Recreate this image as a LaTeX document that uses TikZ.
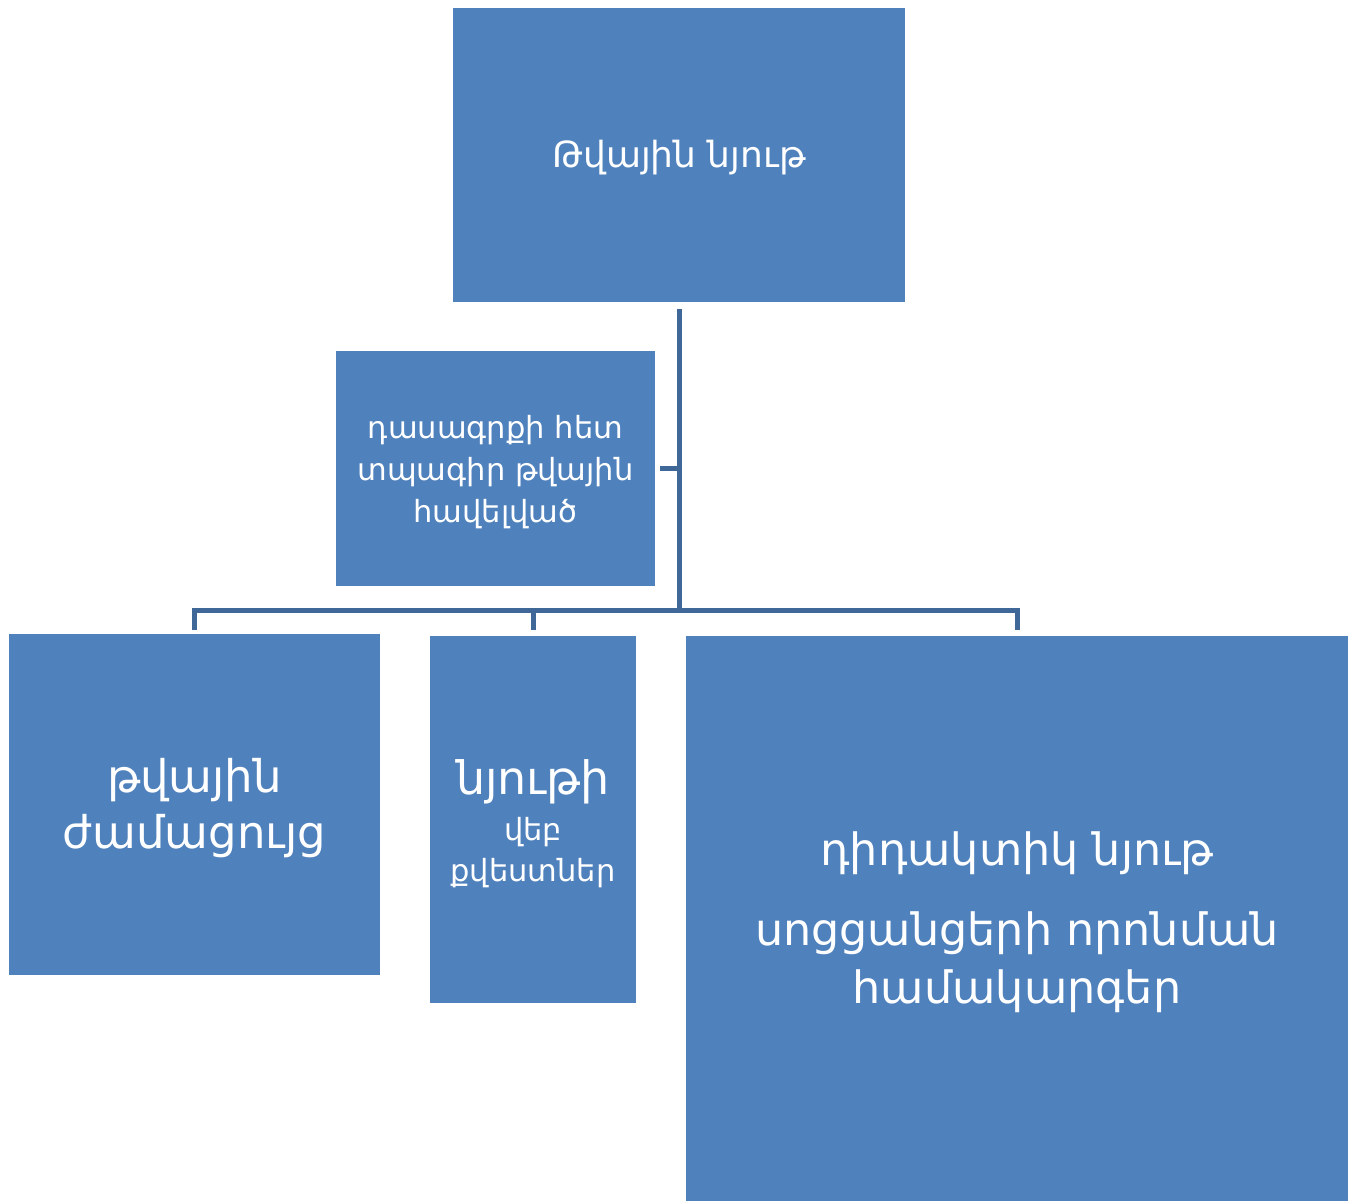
\documentclass[tikz,border=0pt]{standalone}
\usepackage{fontspec}
\setmainfont{DejaVu Sans}
\definecolor{boxblue}{HTML}{4F81BD}
\definecolor{linkblue}{HTML}{3F6797}
\begin{document}
\begin{tikzpicture}[x=1pt,y=-1pt,
  box/.style={fill=boxblue,draw=none,inner sep=0pt},
  txt/.style={text=white,align=center,inner sep=0pt},
  conn/.style={draw=linkblue,line width=5pt,line join=miter}]
\useasboundingbox (0,0) rectangle (1348,1201);
\node[box,minimum width=452pt,minimum height=294pt] (top) at (679,155) {};
\node[box,minimum width=319pt,minimum height=235pt] (asst) at (495.5,468.5) {};
\node[box,minimum width=371pt,minimum height=341pt] (left) at (194.5,804.5) {};
\node[box,minimum width=206pt,minimum height=367pt] (mid) at (533,819.5) {};
\node[box,minimum width=662pt,minimum height=565pt] (right) at (1017,918.5) {};
\node[txt,font=\fontsize{36}{42}\selectfont] (toptxt) at ([yshift=-3pt]top.center)
  {Թվային նյութ};
\node[txt,font=\fontsize{30.5}{42}\selectfont] (assttxt) at ([yshift=-4pt]asst.center)
  {դասագրքի հետ\\ տպագիր թվային\\ հավելված};
\node[txt,font=\fontsize{45}{56}\selectfont] (lefttxt) at ([yshift=-4pt]left.center)
  {թվային\\ ժամացույց};
\node[txt,font=\fontsize{30.5}{41}\selectfont] (midtxt) at ([yshift=-4pt]mid.center)
  {{\fontsize{46}{52}\selectfont նյութի}\\[5pt] վեբ\\ քվեստներ};
\node[txt,font=\fontsize{44.5}{58}\selectfont] (righttxt) at ([yshift=-4pt]right.center)
  {դիդակտիկ նյութ\\[22pt] սոցցանցերի որոնման\\ համակարգեր};
\coordinate (j) at (679,610);
\draw[conn] ([yshift=-7pt]top.south) -- (j);
\draw[conn] ([xshift=5pt]asst.east) -- (asst.east -| j);
\draw[conn] ([yshift=4pt]left.north) |- (j) -| ([yshift=6pt]right.north);
\draw[conn] (j -| mid.north) -- ([yshift=6pt]mid.north);
\end{tikzpicture}
\end{document}
